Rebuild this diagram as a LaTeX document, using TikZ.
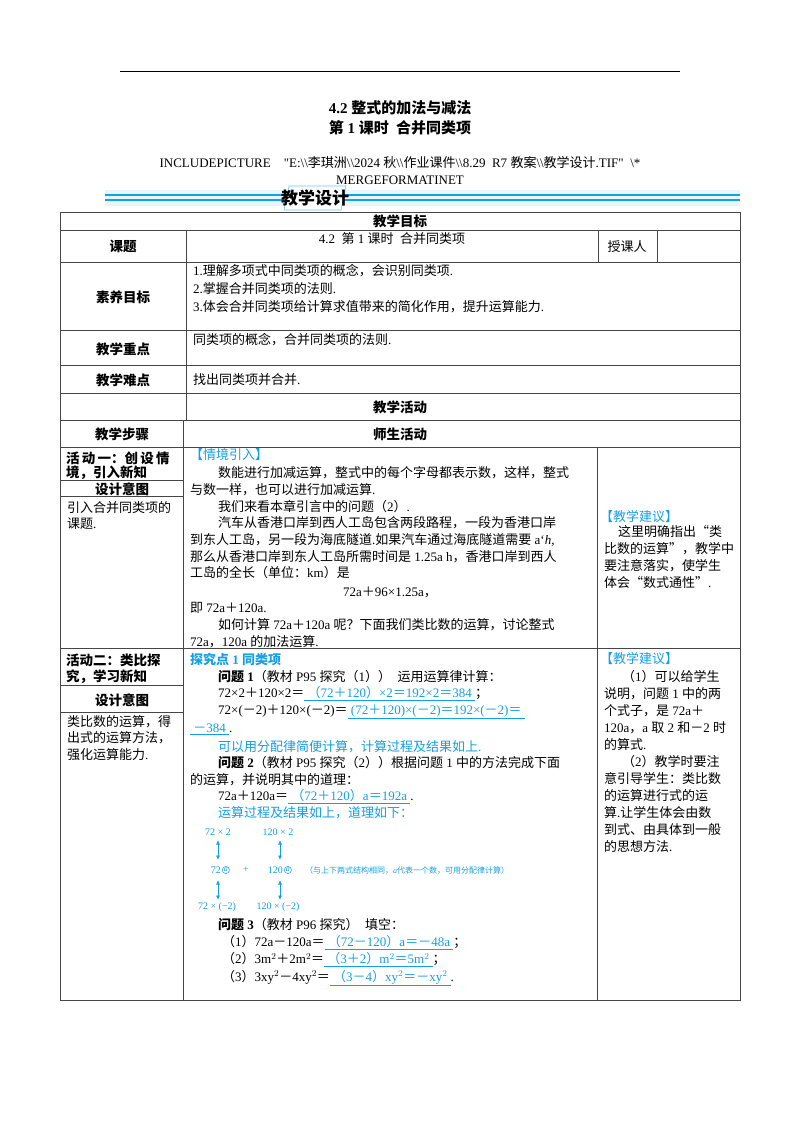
\documentclass[tikz,border=0pt]{standalone}
\usepackage{fontspec}
\setmainfont{Liberation Serif}
\newfontfamily\cjk{Noto Sans CJK SC}
\XeTeXinterchartokenstate=1
\newXeTeXintercharclass\CJKcls
\count255="4E00
\loop\XeTeXcharclass\count255=\CJKcls\advance\count255 by 1\ifnum\count255<"9FFF\repeat
\count255="3000
\loop\XeTeXcharclass\count255=\CJKcls\advance\count255 by 1\ifnum\count255<"3040\repeat
\count255="FF00
\loop\XeTeXcharclass\count255=\CJKcls\advance\count255 by 1\ifnum\count255<"FFF0\repeat
\XeTeXcharclass"201C=\CJKcls \XeTeXcharclass"201D=\CJKcls
\XeTeXinterchartoks 0 \CJKcls = {\begingroup\cjk}
\XeTeXinterchartoks 4095 \CJKcls = {\begingroup\cjk}
\XeTeXinterchartoks \CJKcls 0 = {\endgroup}
\XeTeXinterchartoks \CJKcls 4095 = {\endgroup}
\usetikzlibrary{arrows.meta}
\definecolor{cb}{RGB}{20,160,230}
\definecolor{ln}{RGB}{70,70,70}
\newcommand\fs{\fontsize{13}{15}\selectfont}
\newcommand\Ln[3]{\node[txt] at (#1,#2) {#3};}
\newcommand\Hd[3]{\node[hd] at (#1,#2) {#3};}
\newcommand\ans[1]{{\color{cb}\underline{\ #1\ }}}
\begin{document}
\begin{tikzpicture}[x=1pt,y=-1pt,
  txt/.style={anchor=west,inner sep=0pt,font=\fs},
  hd/.style={inner sep=0pt,font=\fontsize{13.5}{15}\selectfont\bfseries},
  grid/.style={draw=ln,line width=0.9pt},
  arr/.style={cb,line width=0.8pt,{Latex[length=4.5pt,width=4pt]}-{Latex[length=4.5pt,width=4pt]}},
  sm/.style={inner sep=0pt,font=\fontsize{10}{12}\selectfont,text=cb},
  circ/.style={circle,draw=cb,line width=0.5pt,inner sep=0.6pt,text=cb,font=\fontsize{8}{9}\selectfont\itshape}]
\useasboundingbox (0,0) rectangle (800,1132);
\fill[white] (0,0) rectangle (800,1132);
% header
\draw[line width=1pt] (120,72) -- (680,72);
\node[hd,font=\fontsize{15}{17}\selectfont\bfseries] (t1) at (400,108) {4.2 整式的加法与减法};
\node[hd,font=\fontsize{15}{17}\selectfont\bfseries] (t2) at (400,128) {第 1 课时\ \ 合并同类项};
\node[inner sep=0pt,font=\fs] (inc) at (400,163) {INCLUDEPICTURE\ \ \ \ \textquotedbl E:\textbackslash\textbackslash 李琪洲\textbackslash\textbackslash 2024 秋\textbackslash\textbackslash 作业课件\textbackslash\textbackslash 8.29\ \ R7 教案\textbackslash\textbackslash 教学设计.TIF\textquotedbl\ \ \textbackslash*};
\node[inner sep=0pt,font=\fs] (mf) at (400,180) {MERGEFORMATINET};
% banner
\fill[cb!10] (105,190) rectangle (740,206);
\draw[cb,line width=1.2pt] (105,195) -- (285,195) (342,195) -- (740,195);
\draw[cb,line width=1.2pt] (105,200) -- (285,200) (342,200) -- (740,200);
\draw[cb!60,line width=0.6pt,fill=white] (289,186) -- (346,186) -- (341,210) -- (284,210) -- cycle;
\node[hd,font=\fontsize{17}{19}\selectfont\bfseries] (bn) at (315,198) {教学设计};
% table
\draw[grid] (60,212) rectangle (740,1000);
\foreach \y in {230,262,330,365,393,420,447,648} \draw[grid] (60,\y) -- (740,\y);
\draw[grid] (186,230) -- (186,420);
\draw[grid] (598,230) -- (598,262);
\draw[grid] (657,230) -- (657,262);
\draw[grid] (183,420) -- (183,1000);
\draw[grid] (597,447) -- (597,1000);
\draw[grid] (60,480) -- (183,480) (60,496) -- (183,496);
\draw[grid] (60,685) -- (183,685) (60,712) -- (183,712);
% upper rows
\Hd{400}{221}{教学目标}
\Hd{123}{246}{课题}
\node[inner sep=0pt,font=\fs] (kt) at (392,239) {4.2\ \ 第 1 课时\ \ 合并同类项};
\node[inner sep=0pt,font=\fs] (skr) at (627,247) {授课人};
\Hd{123}{297}{素养目标}
\Ln{193}{271}{1.理解多项式中同类项的概念，会识别同类项.}
\Ln{193}{289}{2.掌握合并同类项的法则.}
\Ln{193}{307}{3.体会合并同类项给计算求值带来的简化作用，提升运算能力.}
\Hd{123}{349}{教学重点}
\Ln{193}{340}{同类项的概念，合并同类项的法则.}
\Hd{123}{380}{教学难点}
\Ln{193}{380}{找出同类项并合并.}
\Hd{400}{407}{教学活动}
\Hd{122}{434}{教学步骤}
\Hd{400}{434}{师生活动}
% activity 1 left
\node[hd,anchor=west] at (66,458) {活\,动\,一：创\,设\,情};
\node[hd,anchor=west] at (66,473) {境，引入新知};
\Hd{122}{489}{设计意图}
\Ln{67}{508}{引入合并同类项的}
\Ln{67}{524}{课题.}
% activity 1 middle
\Ln{190}{455}{\color{cb}【情境引入】}
\Ln{218}{473}{数能进行加减运算，整式中的每个字母都表示数，这样，整式}
\Ln{190}{490}{与数一样，也可以进行加减运算.}
\Ln{218}{507}{我们来看本章引言中的问题（2）.}
\Ln{218}{523}{汽车从香港口岸到西人工岛包含两段路程，一段为香港口岸}
\Ln{190}{540}{到东人工岛，另一段为海底隧道.如果汽车通过海底隧道需要 a`\textit{h},}
\Ln{190}{557}{那么从香港口岸到东人工岛所需时间是 1.25a h，香港口岸到西人}
\Ln{190}{573}{工岛的全长（单位：km）是}
\node[inner sep=0pt,font=\fs] at (390,592) {72a＋96×1.25a，};
\Ln{190}{608}{即 72a＋120a.}
\Ln{218}{625}{如何计算 72a＋120a 呢？下面我们类比数的运算，讨论整式}
\Ln{190}{642}{72a，120a 的加法运算.}
% activity 1 right
\Ln{600}{517}{\color{cb}【教学建议】}
\Ln{618}{532}{这里明确指出“类}
\Ln{604}{549}{比数的运算”，教学中}
\Ln{604}{566}{要注意落实，使学生}
\Ln{604}{583}{体会“数式通性”.}
% activity 2 left
\node[hd,anchor=west] at (66,660) {活动二：类比探};
\node[hd,anchor=west] at (66,677) {究，学习新知};
\Hd{122}{700}{设计意图}
\Ln{67}{722}{类比数的运算，得}
\Ln{67}{738}{出式的运算方法，}
\Ln{67}{755}{强化运算能力.}
% activity 2 middle
\Ln{190}{660}{\color{cb}\bfseries 探究点 1 同类项}
\Ln{218}{677}{\textbf{问题 1}（教材 P95 探究（1））\ \ 运用运算律计算：}
\Ln{218}{694}{72×2＋120×2＝\ans{（72＋120）×2＝192×2＝384}；}
\Ln{218}{712}{72×(－2)＋120×(－2)＝\ans{(72＋120)×(－2)＝192×(－2)＝}}
\Ln{190}{729}{\ans{－384}.}
\Ln{218}{747}{\color{cb}可以用分配律简便计算，计算过程及结果如上.}
\Ln{218}{763}{\textbf{问题 2}（教材 P95 探究（2））根据问题 1 中的方法完成下面}
\Ln{190}{780}{的运算，并说明其中的道理：}
\Ln{218}{797}{72a＋120a＝\ans{（72＋120）a＝192a}.}
\Ln{218}{813}{\color{cb}运算过程及结果如上，道理如下：}
% diagram
\node[sm] (a1) at (218,832) {72 × 2};
\node[sm] (b1) at (278,832) {120 × 2};
\node[sm,anchor=east] (a2) at (221,870) {72};
\node[circ,anchor=west] (ca) at (222,870) {a};
\node[sm] (pl) at (246,870) {+};
\node[sm,anchor=east] (b2) at (283,870) {120};
\node[circ,anchor=west] (cb2) at (284,870) {a};
\node[sm,anchor=west,font=\fontsize{8}{10}\selectfont] (nt) at (305,870) {（与上下两式结构相同，\textit{a}代表一个数，可用分配律计算）};
\node[sm] (a3) at (217,907) {72 × (−2)};
\node[sm] (b3) at (278,907) {120 × (−2)};
\coordinate (u1) at (218,840); \coordinate (u2) at (218,860);
\coordinate (u3) at (218,880); \coordinate (u4) at (218,900);
\coordinate (v1) at (280,840); \coordinate (v2) at (280,860);
\coordinate (v3) at (280,880); \coordinate (v4) at (280,900);
\draw[arr] (u1) -- (u2);
\draw[arr] (u3) -- (u4);
\draw[arr] (v1) -- (v2);
\draw[arr] (v3) -- (v4);
\Ln{218}{925}{\textbf{问题 3}（教材 P96 探究）\ \ 填空：}
\Ln{222}{943}{（1）72a－120a＝\ans{（72－120）a＝－48a}；}
\Ln{222}{960}{（2）3m$^2$＋2m$^2$＝\ans{（3＋2）m$^2$＝5m$^2$}；}
\Ln{222}{978}{（3）3xy$^2$－4xy$^2$＝\ans{（3－4）xy$^2$＝－xy$^2$}.}
% activity 2 right
\Ln{600}{659}{\color{cb}【教学建议】}
\Ln{622}{677}{（1）可以给学生}
\Ln{604}{694}{说明，问题 1 中的两}
\Ln{604}{711}{个式子，是 72a＋}
\Ln{604}{728}{120a，a 取 2 和－2 时}
\Ln{604}{745}{的算式.}
\Ln{622}{762}{（2）教学时要注}
\Ln{604}{779}{意引导学生：类比数}
\Ln{604}{796}{的运算进行式的运}
\Ln{604}{813}{算.让学生体会由数}
\Ln{604}{830}{到式、由具体到一般}
\Ln{604}{847}{的思想方法.}
\end{tikzpicture}
\end{document}
